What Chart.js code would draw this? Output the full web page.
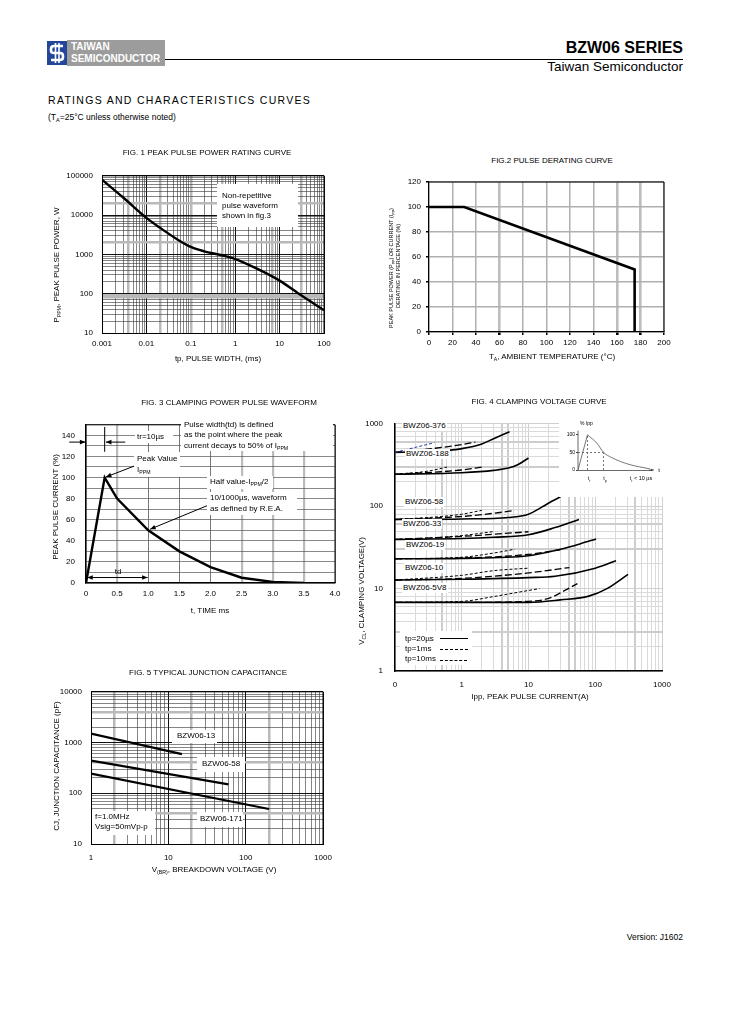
<!DOCTYPE html>
<html>
<head>
<meta charset="utf-8">
<script src="https://cdn.jsdelivr.net/npm/chart.js@4.4.1/dist/chart.umd.min.js"></script>
<style>
html,body{margin:0;padding:0;background:#fff}
#page{position:relative;width:729px;height:1032px;overflow:hidden;font-family:"Liberation Sans",Arial,Helvetica,sans-serif;color:#000}
.t{position:absolute;white-space:nowrap;line-height:1;z-index:5}
.c{transform:translate(-50%,-50%)}
.l{transform:translateY(-50%)}
.r{transform:translate(-100%,-50%)}
.v{transform:translate(-50%,-50%) rotate(-90deg)}
.wb{position:absolute;background:#fff;z-index:4}
sub{font-size:65%;vertical-align:-2px;line-height:0}
.holder{position:absolute;z-index:2}
canvas{display:block}
.leg{position:absolute;width:28px;height:0;z-index:5}
</style>
</head>
<body>
<div id="page">
  <!-- header -->
  <svg style="position:absolute;left:47px;top:41px" width="20" height="24" viewBox="0 0 20 24">
    <rect width="20" height="24" fill="#23469a"/>
    <path d="M16 5 H7 Q4 5 4 8 V9.5 Q4 12 7 12 H13 Q16 12 16 15 V16 Q16 19 13 19 H4" stroke="#fff" stroke-width="2.6" fill="none"/>
    <line x1="8.5" y1="2" x2="8.5" y2="22" stroke="#fff" stroke-width="1.6"/>
    <line x1="12" y1="2" x2="12" y2="22" stroke="#fff" stroke-width="1.6"/>
  </svg>
  <div style="position:absolute;left:67px;top:40px;width:98px;height:26px;background:#9c9c9c"></div>
  <div class="t l" style="left:71px;top:47px;font-size:10px;font-weight:bold;color:#fff">TAIWAN</div>
  <div class="t l" style="left:71px;top:59px;font-size:10px;font-weight:bold;color:#fff">SEMICONDUCTOR</div>
  <div style="position:absolute;left:165px;top:59px;width:518px;height:1px;background:#000"></div>
  <div class="t r" style="left:683px;top:48px;font-size:16px;font-weight:bold">BZW06 SERIES</div>
  <div class="t r" style="left:683px;top:67px;font-size:13.5px">Taiwan Semiconductor</div>
  <div class="t l" style="left:48px;top:100px;font-size:10.5px;letter-spacing:1.3px">RATINGS AND CHARACTERISTICS CURVES</div>
  <div class="t l" style="left:48px;top:117px;font-size:8.5px">(T<sub>A</sub>=25°C unless otherwise noted)</div>

  <!-- fig 1 texts -->
  <div class="t c" style="left:207px;top:153px;font-size:8px">FIG. 1 PEAK PULSE POWER RATING CURVE</div>
  <div class="t v" style="left:57px;top:265px;font-size:8px">P<sub>PPM</sub>, PEAK PULSE POWER, W</div>
  <div class="t c" style="left:218px;top:359px;font-size:8px">tp, PULSE WIDTH, (ms)</div>
  <div class="wb" style="left:217px;top:184px;width:81px;height:43px"></div>
  <div class="t l" style="left:222px;top:196px;font-size:8px">Non-repetitive</div>
  <div class="t l" style="left:222px;top:206px;font-size:8px">pulse waveform</div>
  <div class="t l" style="left:222px;top:216px;font-size:8px">shown in fig.3</div>

  <!-- fig 2 texts -->
  <div class="t c" style="left:552px;top:161px;font-size:8px">FIG.2 PULSE DERATING CURVE</div>
  <div class="t v" style="left:392px;top:268px;font-size:5.5px">PEAK PULSE POWER (P<sub>PP</sub>) OR CURRENT (I<sub>PP</sub>)</div>
  <div class="t v" style="left:399px;top:266px;font-size:5.5px">DERATING IN PERCENTAGE (%)</div>
  <div class="t c" style="left:552px;top:357px;font-size:8px">T<sub>A</sub>, AMBIENT TEMPERATURE (°C)</div>

  <!-- fig 3 texts -->
  <div class="t c" style="left:229px;top:403px;font-size:8px">FIG. 3 CLAMPING POWER PULSE WAVEFORM</div>
  <div class="t v" style="left:56px;top:507px;font-size:8px">PEAK PULSE CURRENT (%)</div>
  <div class="t c" style="left:210px;top:611px;font-size:8px">t, TIME ms</div>
  <div class="wb" style="left:181px;top:420px;width:152px;height:31px"></div>
  <div class="t l" style="left:184px;top:425px;font-size:8px">Pulse width(td) is defined</div>
  <div class="t l" style="left:184px;top:435px;font-size:8px">as the point where the peak</div>
  <div class="t l" style="left:184px;top:446px;font-size:8px">current decays to 50% of I<sub>PPM</sub></div>
  <div class="wb" style="left:135px;top:431px;width:38px;height:12px"></div>
  <div class="t l" style="left:137px;top:437px;font-size:8px">tr=10µs</div>
  <div class="wb" style="left:134px;top:452px;width:46px;height:25px"></div>
  <div class="t l" style="left:137px;top:459px;font-size:8px">Peak Value</div>
  <div class="t l" style="left:137px;top:470px;font-size:8px">I<sub>PPM</sub></div>
  <div class="wb" style="left:207px;top:476px;width:66px;height:13px"></div>
  <div class="t l" style="left:210px;top:482px;font-size:8px">Half value-I<sub>PPM</sub>/2</div>
  <div class="wb" style="left:207px;top:492px;width:90px;height:23px"></div>
  <div class="t l" style="left:210px;top:498px;font-size:8px">10/1000µs, waveform</div>
  <div class="t l" style="left:210px;top:509px;font-size:8px">as defined by R.E.A.</div>
  <div class="t c" style="left:118px;top:572px;font-size:8px">td</div>

  <!-- fig 4 texts -->
  <div class="t c" style="left:539px;top:402px;font-size:8px">FIG. 4 CLAMPING VOLTAGE CURVE</div>
  <div class="t v" style="left:362px;top:591px;font-size:8px">V<sub>CL</sub>, CLAMPING VOLTAGE(V)</div>
  <div class="t c" style="left:530px;top:697px;font-size:8px">Ipp, PEAK PULSE CURRENT(A)</div>
  <div class="t l" style="left:402px;top:426px;font-size:8px;background:#fff;padding:1px">BWZ06-376</div>
  <div class="t l" style="left:405px;top:454px;font-size:8px;background:#fff;padding:1px">BWZ06-188</div>
  <div class="t l" style="left:404px;top:502px;font-size:8px;background:#fff;padding:1px">BWZ06-58</div>
  <div class="t l" style="left:402px;top:524px;font-size:8px;background:#fff;padding:1px">BWZ06-33</div>
  <div class="t l" style="left:405px;top:545px;font-size:8px;background:#fff;padding:1px">BWZ06-19</div>
  <div class="t l" style="left:404px;top:568px;font-size:8px;background:#fff;padding:1px">BWZ06-10</div>
  <div class="t l" style="left:402px;top:588px;font-size:8px;background:#fff;padding:1px">BWZ06-5V8</div>
  <div class="wb" style="left:400px;top:631px;width:72px;height:34px"></div>
  <div class="t l" style="left:405px;top:639px;font-size:8px">tp=20µs</div>
  <div class="t l" style="left:405px;top:649px;font-size:8px">tp=1ms</div>
  <div class="t l" style="left:405px;top:659px;font-size:8px">tp=10ms</div>
  <div class="leg" style="left:440px;top:638px;border-top:1.5px solid #000"></div>
  <div class="leg" style="left:440px;top:649px;border-top:1.2px dashed #000"></div>
  <div class="leg" style="left:440px;top:660px;border-top:1px dashed #000;width:27px"></div>
  <div class="wb" style="left:559px;top:416px;width:104px;height:81px;z-index:3"></div>
  <div class="t l" style="left:580px;top:423px;font-size:5px">% Ipp</div>
  <div class="t c" style="left:659px;top:470px;font-size:6px">t</div>
  <div class="t c" style="left:589px;top:479px;font-size:5.5px">t<sub>r</sub></div>
  <div class="t c" style="left:605px;top:479px;font-size:5.5px">t<sub>p</sub></div>
  <div class="t c" style="left:641px;top:479px;font-size:5.5px">t<sub>r</sub> &lt; 10 µs</div>

  <!-- fig 5 texts -->
  <div class="t c" style="left:208px;top:673px;font-size:8px">FIG. 5 TYPICAL JUNCTION CAPACITANCE</div>
  <div class="t v" style="left:57px;top:766px;font-size:8px">CJ, JUNCTION CAPACITANCE (pF)</div>
  <div class="t c" style="left:214px;top:870px;font-size:8px">V<sub>(BR)</sub>, BREAKDOWN VOLTAGE (V)</div>
  <div class="wb" style="left:172px;top:730px;width:45px;height:13px"></div>
  <div class="t l" style="left:177px;top:736px;font-size:8px">BZW06-13</div>
  <div class="wb" style="left:197px;top:757px;width:48px;height:15px"></div>
  <div class="t l" style="left:202px;top:764px;font-size:8px">BZW06-58</div>
  <div class="wb" style="left:197px;top:812px;width:46px;height:15px"></div>
  <div class="t l" style="left:200px;top:819px;font-size:8px">BZW06-171</div>
  <div class="wb" style="left:92px;top:811px;width:63px;height:24px"></div>
  <div class="t l" style="left:95px;top:817px;font-size:8px">f=1.0MHz</div>
  <div class="t l" style="left:95px;top:827px;font-size:8px">Vsig=50mVp-p</div>

  <div class="t r" style="left:683px;top:937px;font-size:8.5px">Version: J1602</div>
</div>

<script>
// ---------------- data ----------------
// Fig 1: peak pulse power vs pulse width
const f1Width = [0.001, 0.003, 0.01, 0.02, 0.05, 0.1, 0.2, 0.5, 1, 3, 10, 30, 100];
const f1Power = [80000, 28000, 8500, 4800, 2400, 1550, 1200, 950, 760, 440, 215, 92, 38];

// Fig 2: derating
const f2Temp = [0, 30, 175, 175];
const f2Pct = [100, 100, 50, 0];

// Fig 3: pulse waveform
const f3Time = [0, 0.3, 0.5, 1, 1.5, 2, 2.5, 3, 3.5];
const f3Current = [0, 100, 80, 50, 30, 15, 5, 1, 0];

// Fig 4: clamping voltage, [Ipp (A), Vcl (V)] pairs ("0" on the axis is 0.1)
const bwz376_tp20us = [[0.1, 450], [0.5, 470], [1, 500], [2, 570], [3, 660], [5.2, 800]];
const bwz376_tp1ms = [[0.1, 450], [0.4, 505], [1, 560], [1.6, 600]];
const bwz376_tp10ms = [[0.1, 450], [0.39, 590]];
const bwz188_tp20us = [[0.1, 244], [1, 255], [3, 272], [5, 290], [7, 320], [10, 385]];
const bwz188_tp1ms = [[0.1, 244], [0.5, 262], [1, 275], [2, 298]];
const bwz188_tp10ms = [[0.1, 244], [0.3, 265], [0.6, 298]];
const bwz58_tp20us = [[0.1, 69], [1, 70], [5, 73], [10, 80], [16, 98], [22, 114], [30, 129]];
const bwz58_tp1ms = [[0.1, 69], [1, 75], [3, 82], [6.2, 89]];
const bwz58_tp10ms = [[0.1, 69], [0.5, 75], [1, 80], [2, 89]];
const bwz33_tp20us = [[0.1, 39.5], [1, 40.5], [3, 42], [10, 45], [25, 55], [57, 69]];
const bwz33_tp1ms = [[0.1, 39.5], [1, 43], [5, 47], [10, 49]];
const bwz33_tp10ms = [[0.1, 39.5], [0.5, 42], [1, 44], [2.9, 49]];
const bwz19_tp20us = [[0.1, 23], [1, 23.3], [10, 25], [30, 30], [60, 35], [103, 40]];
const bwz19_tp1ms = [[0.1, 23], [1, 23.5], [10, 26], [30, 29.6]];
const bwz19_tp10ms = [[0.1, 23], [1, 24], [3, 27], [6.2, 30]];
const bwz10_tp20us = [[0.1, 12.7], [1, 13], [10, 13.6], [25, 14.1], [100, 17.7], [205, 21.8]];
const bwz10_tp1ms = [[0.1, 12.7], [1, 13.3], [10, 15.5], [41, 18]];
const bwz10_tp10ms = [[0.1, 12.7], [1, 14.5], [3, 16.5], [10, 17.7]];
const bwz5v8_tp20us = [[0.1, 6.8], [1, 6.8], [10, 6.8], [30, 7.3], [80, 8.1], [150, 10], [310, 14.9]];
const bwz5v8_tp1ms = [[0.1, 6.8], [1, 6.8], [10, 7], [20, 7.6], [35, 9.5], [54, 11.5]];
const bwz5v8_tp10ms = [[0.1, 6.8], [1, 7], [3, 8], [8, 9.2], [14.6, 10]];

// Fig 4 inset: test waveform
const insetRiseT = [0, 1];
const insetRisePct = [0, 100];
const insetDecayT = [1, 2, 2.7, 3.5, 4.5, 5.5, 6.5, 7.6];
const insetDecayPct = [100, 76, 50, 36, 24, 15, 9, 3];
const insetTr = 1;
const insetTp = 2.7;

// Fig 5: junction capacitance, straight lines on log-log
const f5Vbr13 = [1, 15];
const f5Cj13 = [1500, 590];
const f5Vbr58 = [1, 60];
const f5Cj58 = [440, 150];
const f5Vbr171 = [1, 200];
const f5Cj171 = [245, 49];

// ---------------- helpers ----------------
Chart.defaults.font.family = '"Liberation Sans", Arial, sans-serif';
Chart.defaults.font.size = 8;
Chart.defaults.color = '#000';

const xy = (xs, ys) => xs.map((x, i) => ({ x, y: ys[i] }));
const pairs = arr => arr.map(([x, y]) => ({ x, y }));
const isDecade = v => { const l = Math.log10(v); return Math.abs(l - Math.round(l)) < 1e-6; };
const near = (v, list) => list.some(g => Math.abs(v - g) / g < 1e-6);

function logTicks(min, max) {
  const out = [];
  for (let e = Math.round(Math.log10(min)); e < Math.round(Math.log10(max)); e++) {
    for (let s = 1; s < 10; s++) out.push(+(s * Math.pow(10, e)).toPrecision(3));
  }
  out.push(max);
  return out.map(v => ({ value: v }));
}

// draw a frame round the plot area
const framePlugin = {
  id: 'frame',
  afterDatasetsDraw(chart, args, opts) {
    if (!opts || !opts.sides) return;
    const { ctx, chartArea: a } = chart;
    ctx.save();
    ctx.strokeStyle = opts.color || '#000';
    ctx.lineWidth = opts.width || 1;
    ctx.beginPath();
    if (opts.sides.includes('t')) { ctx.moveTo(a.left, a.top); ctx.lineTo(a.right, a.top); }
    if (opts.sides.includes('r')) { ctx.moveTo(a.right, a.top); ctx.lineTo(a.right, a.bottom); }
    if (opts.sides.includes('b')) { ctx.moveTo(a.left, a.bottom); ctx.lineTo(a.right, a.bottom); }
    if (opts.sides.includes('l')) { ctx.moveTo(a.left, a.top); ctx.lineTo(a.left, a.bottom); }
    ctx.stroke();
    ctx.restore();
  }
};

// annotation arrows, given in data units
const arrowPlugin = {
  id: 'arrows',
  afterDraw(chart, args, opts) {
    const list = (opts && opts.list) || [];
    const { ctx, scales } = chart;
    const head = (x0, y0, x1, y1, size) => {
      const ang = Math.atan2(y1 - y0, x1 - x0);
      ctx.beginPath();
      ctx.moveTo(x1, y1);
      ctx.lineTo(x1 - size * Math.cos(ang - 0.4), y1 - size * Math.sin(ang - 0.4));
      ctx.lineTo(x1 - size * Math.cos(ang + 0.4), y1 - size * Math.sin(ang + 0.4));
      ctx.closePath();
      ctx.fill();
    };
    list.forEach(a => {
      const x0 = scales.x.getPixelForValue(a.from[0]), y0 = scales.y.getPixelForValue(a.from[1]);
      const x1 = scales.x.getPixelForValue(a.to[0]), y1 = scales.y.getPixelForValue(a.to[1]);
      ctx.save();
      ctx.strokeStyle = ctx.fillStyle = a.color || '#000';
      ctx.lineWidth = a.width || 1;
      ctx.beginPath(); ctx.moveTo(x0, y0); ctx.lineTo(x1, y1); ctx.stroke();
      const sz = a.size || 6;
      if (a.head !== 'none') head(x0, y0, x1, y1, sz);
      if (a.head === 'both') head(x1, y1, x0, y0, sz);
      ctx.restore();
    });
  }
};
Chart.register(framePlugin, arrowPlugin);

// put a canvas so that its plot area lands on [l, t, r, b] of the page
function place(area, pad) {
  const [l, t, r, b] = area;
  const w = Math.round(r - l + pad.l + pad.r), h = Math.round(b - t + pad.t + pad.b);
  const holder = document.createElement('div');
  holder.className = 'holder';
  holder.style.cssText = `left:${l - pad.l}px;top:${t - pad.t}px;width:${w}px;height:${h}px`;
  const c = document.createElement('canvas');
  c.width = w; c.height = h;
  c.style.width = w + 'px'; c.style.height = h + 'px';
  holder.appendChild(c);
  document.getElementById('page').appendChild(holder);
  return c;
}

function baseOptions(pad) {
  return {
    responsive: false,
    animation: false,
    events: [],
    layout: { padding: { top: pad.t, right: pad.r, left: 0, bottom: 0 } },
    plugins: { legend: { display: false }, tooltip: { enabled: false } },
    elements: { point: { radius: 0 } }
  };
}

function logAxis(min, max, pad, fit, grayList, opts) {
  const o = opts || {};
  return {
    type: 'logarithmic', min, max,
    afterBuildTicks: s => { s.ticks = logTicks(min, max); },
    afterFit: s => { if (fit === 'x') s.height = pad.b; else s.width = pad.l; },
    ticks: {
      autoSkip: false, maxRotation: 0, padding: o.padding || 6,
      callback: v => isDecade(v) ? (o.label ? o.label(v) : String(+v.toPrecision(1))) : ''
    },
    border: { display: true, color: '#000', width: o.axisWidth || 1 },
    grid: {
      drawTicks: false,
      color: ctx => {
        const v = ctx.tick && ctx.tick.value;
        if (near(v, grayList)) return o.grayColor || '#b9b9b9';
        return isDecade(v) ? (o.majorColor || '#111') : (o.minorColor || '#333');
      },
      lineWidth: ctx => {
        const v = ctx.tick && ctx.tick.value;
        if (near(v, grayList)) return o.grayWidth || 2.5;
        return isDecade(v) ? (o.majorWidth || 1) : (o.minorWidth || 0.6);
      }
    }
  };
}

// ---------------- Fig 1 ----------------
(function () {
  const pad = { l: 60, t: 10, r: 20, b: 30 };
  const area = [101.5, 172, 323, 333];
  const opt = baseOptions(pad);
  opt.scales = {
    x: logAxis(0.001, 100, pad, 'x', [0.004, 0.02, 0.1, 0.5, 7, 30], { padding: 6 }),
    y: logAxis(10, 100000, pad, 'y', [80, 90, 2000, 20000], { padding: 9 })
  };
  opt.plugins.frame = { sides: 'tr', color: '#000', width: 1 };
  new Chart(place(area, pad), {
    type: 'line',
    data: { datasets: [{ data: xy(f1Width, f1Power), borderColor: '#000', borderWidth: 2.4, cubicInterpolationMode: 'monotone' }] },
    options: opt
  });
})();

// ---------------- Fig 2 ----------------
(function () {
  const pad = { l: 60, t: 10, r: 20, b: 30 };
  const area = [429, 182, 664, 332];
  const opt = baseOptions(pad);
  const thickX = [60, 160, 180];
  opt.scales = {
    x: {
      type: 'linear', min: 0, max: 200,
      afterFit: s => { s.height = pad.b; },
      ticks: { stepSize: 20, maxRotation: 0, autoSkip: false, padding: 3 },
      border: { display: true, color: '#000', width: 1.2 },
      grid: {
        tickLength: 3, tickColor: '#000',
        color: c => (c.tick && thickX.includes(c.tick.value)) ? '#bdbdbd' : '#b0b0b0',
        lineWidth: c => (c.tick && thickX.includes(c.tick.value)) ? 2.6 : 1.5
      }
    },
    y: {
      type: 'linear', min: 0, max: 120,
      afterFit: s => { s.width = pad.l; },
      ticks: { stepSize: 20, padding: 5 },
      border: { display: true, color: '#000', width: 1.2 },
      grid: { tickLength: 3, tickColor: '#000', color: '#b0b0b0', lineWidth: 1.5 }
    }
  };
  opt.plugins.frame = { sides: 'tr', color: '#000', width: 1 };
  new Chart(place(area, pad), {
    type: 'line',
    data: { datasets: [{ data: xy(f2Temp, f2Pct), borderColor: '#000', borderWidth: 2.6, tension: 0 }] },
    options: opt
  });
})();

// ---------------- Fig 3 ----------------
(function () {
  const pad = { l: 60, t: 10, r: 20, b: 30 };
  const area = [86, 419, 335, 583];
  const opt = baseOptions(pad);
  const grayX = [0.5, 2.5, 3, 3.5];
  opt.scales = {
    x: {
      type: 'linear', min: 0, max: 4,
      afterFit: s => { s.height = pad.b; },
      ticks: { stepSize: 0.5, maxRotation: 0, autoSkip: false, padding: 6 },
      border: { display: true, color: '#000', width: 1.2 },
      grid: {
        drawTicks: false,
        color: c => (c.tick && grayX.includes(c.tick.value)) ? '#bbbbbb' : '#555',
        lineWidth: c => (c.tick && grayX.includes(c.tick.value)) ? 2.2 : 0.8
      }
    },
    y: {
      type: 'linear', min: 0, max: 150,
      afterFit: s => { s.width = pad.l; },
      ticks: { stepSize: 10, autoSkip: false, padding: 11, callback: v => (v % 20 === 0 && v < 150) ? v : '' },
      border: { display: true, color: '#000', width: 1.2 },
      grid: { drawTicks: false, color: '#555', lineWidth: 0.7 }
    }
  };
  opt.plugins.frame = { sides: 'tr', color: '#000', width: 1 };
  opt.plugins.arrows = {
    list: [
      { from: [-0.27, 133.6], to: [-0.01, 133.6], size: 6 },
      { from: [0.3, 148], to: [0.3, 124.4], head: 'none' },
      { from: [0.63, 133.6], to: [0.32, 133.6], size: 6 },
      { from: [0.78, 111], to: [0.32, 100.5], size: 6 },
      { from: [1.99, 74.4], to: [1.03, 51], size: 6 },
      { from: [0.02, 5.2], to: [0.99, 5.2], head: 'both', size: 6 }
    ]
  };
  new Chart(place(area, pad), {
    type: 'line',
    data: { datasets: [{ data: xy(f3Time, f3Current), borderColor: '#000', borderWidth: 2.4, tension: 0 }] },
    options: opt
  });
})();

// ---------------- Fig 4 ----------------
(function () {
  const pad = { l: 60, t: 10, r: 22, b: 30 };
  const area = [395, 417, 662, 671];
  const opt = baseOptions(pad);
  const light = {
    padding: 9, majorColor: '#cfcfcf', minorColor: '#dadada', grayColor: '#cdcdcd',
    grayWidth: 2, majorWidth: 1, minorWidth: 1, axisWidth: 1.5,
    label: v => v < 0.5 ? '0' : String(+v.toPrecision(1))
  };
  opt.scales = {
    x: logAxis(0.1, 1000, pad, 'x', [0.5, 4, 5, 40, 50, 400], light),
    y: logAxis(1, 1000, pad, 'y', [3, 30, 300, 60, 600], Object.assign({}, light, { padding: 12 }))
  };
  const solid = { borderColor: '#000', borderWidth: 1.6, borderDash: [] };
  const dash = { borderColor: '#000', borderWidth: 1.3, borderDash: [7, 3] };
  const dot = { borderColor: '#000', borderWidth: 1, borderDash: [3, 2] };
  const groups = [
    [bwz376_tp20us, bwz376_tp1ms, bwz376_tp10ms],
    [bwz188_tp20us, bwz188_tp1ms, bwz188_tp10ms],
    [bwz58_tp20us, bwz58_tp1ms, bwz58_tp10ms],
    [bwz33_tp20us, bwz33_tp1ms, bwz33_tp10ms],
    [bwz19_tp20us, bwz19_tp1ms, bwz19_tp10ms],
    [bwz10_tp20us, bwz10_tp1ms, bwz10_tp10ms],
    [bwz5v8_tp20us, bwz5v8_tp1ms, bwz5v8_tp10ms]
  ];
  const datasets = [];
  groups.forEach((g, gi) => {
    datasets.push(Object.assign({ data: pairs(g[2]), cubicInterpolationMode: 'monotone' }, dot,
      gi === 0 ? { borderColor: '#2b3ea8' } : {}));
    datasets.push(Object.assign({ data: pairs(g[1]), cubicInterpolationMode: 'monotone' }, dash));
    datasets.push(Object.assign({ data: pairs(g[0]), cubicInterpolationMode: 'monotone' }, solid));
  });
  new Chart(place(area, pad), { type: 'line', data: { datasets }, options: opt });
})();

// Fig 4 inset (test waveform)
(function () {
  const pad = { l: 16, t: 4, r: 12, b: 4 };
  const area = [578, 425, 651, 470];
  const holder = place(area, pad);
  holder.parentNode.style.zIndex = 4;
  const opt = baseOptions(pad);
  opt.scales = {
    x: {
      type: 'linear', min: 0, max: 7.7,
      afterFit: s => { s.height = pad.b; },
      ticks: { display: false },
      border: { display: true, color: '#444', width: 0.8 },
      grid: { display: false }
    },
    y: {
      type: 'linear', min: 0, max: 128,
      afterFit: s => { s.width = pad.l; },
      afterBuildTicks: s => { s.ticks = [0, 50, 100].map(v => ({ value: v })); },
      ticks: { font: { size: 5 }, padding: 1 },
      border: { display: false },
      grid: { drawOnChartArea: false, drawTicks: true, tickLength: 2, color: '#444' }
    }
  };
  opt.plugins.arrows = {
    list: [
      { from: [0, 0], to: [0, 112], head: 'none', width: 0.8, color: '#444' },
      { from: [7.5, 0], to: [8.0, 0], size: 3, width: 0.8, color: '#444' }
    ]
  };
  const dashed = { borderColor: '#555', borderWidth: 0.8, borderDash: [2, 2] };
  new Chart(holder, {
    type: 'line',
    data: {
      datasets: [
        Object.assign({ data: xy([insetTr, insetTr], [0, 100]) }, dashed),
        Object.assign({ data: xy([insetTp, insetTp], [0, 50]) }, dashed),
        Object.assign({ data: xy([0, insetTp], [50, 50]) }, dashed),
        { data: xy(insetRiseT, insetRisePct), borderColor: '#666', borderWidth: 0.9 },
        { data: xy(insetDecayT, insetDecayPct), borderColor: '#666', borderWidth: 0.9, cubicInterpolationMode: 'monotone' }
      ]
    },
    options: opt
  });
})();

// ---------------- Fig 5 ----------------
(function () {
  const pad = { l: 60, t: 10, r: 22, b: 30 };
  const area = [91, 688, 323, 844];
  const opt = baseOptions(pad);
  opt.scales = {
    x: logAxis(1, 1000, pad, 'x', [2, 20, 200], { padding: 9 }),
    y: logAxis(10, 10000, pad, 'y', [40, 400, 4000], { padding: 9 })
  };
  opt.plugins.frame = { sides: 'tr', color: '#000', width: 1 };
  const line = { borderColor: '#000', borderWidth: 2.2, tension: 0 };
  new Chart(place(area, pad), {
    type: 'line',
    data: {
      datasets: [
        Object.assign({ data: xy(f5Vbr13, f5Cj13) }, line),
        Object.assign({ data: xy(f5Vbr58, f5Cj58) }, line),
        Object.assign({ data: xy(f5Vbr171, f5Cj171) }, line)
      ]
    },
    options: opt
  });
})();
</script>
</body>
</html>
